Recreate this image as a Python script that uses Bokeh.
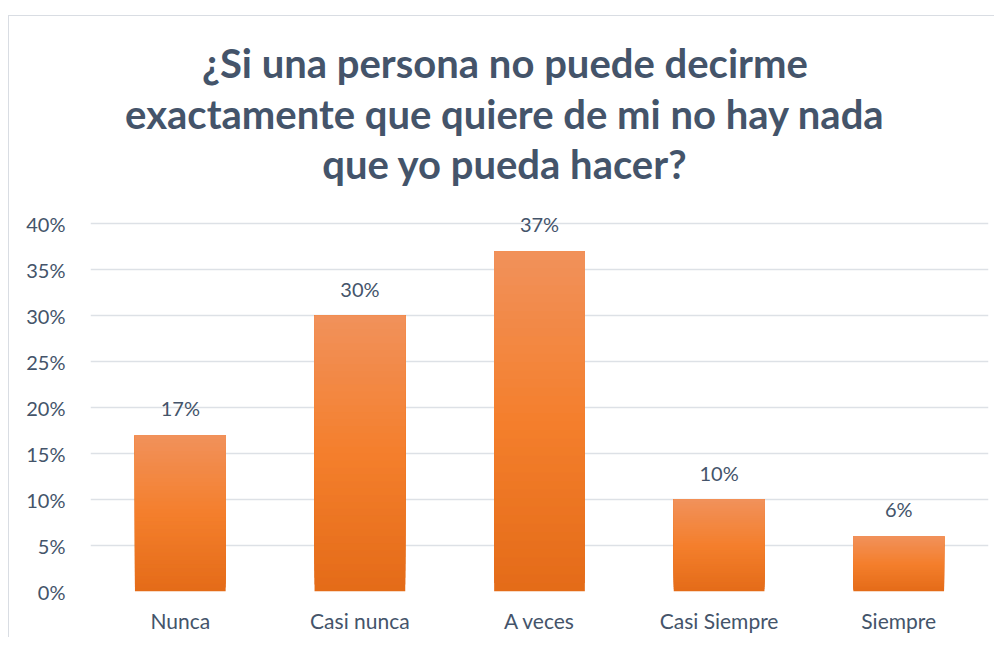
from bokeh.plotting import figure
from bokeh.models import FactorRange, Range1d, FixedTicker, ColumnDataSource, Spacer
from bokeh.layouts import column, row
from bokeh.core.properties import value
from bokeh.embed import file_html
from bokeh.resources import INLINE

categories = ["Nunca", "Casi nunca", "A veces", "Casi Siempre", "Siempre"]
values = [17, 30, 37, 10, 6]
bar_labels = ["17%", "30%", "37%", "10%", "6%"]
y_ticks = [0, 5, 10, 15, 20, 25, 30, 35, 40]
y_tick_labels = ["0%", "5%", "10%", "15%", "20%", "25%", "30%", "35%", "40%"]
title_lines = ["¿Si una persona no puede decirme",
               "exactamente que quiere de mi no hay nada",
               "que yo pueda hacer?"]

TEXT = "#44546A"
FONT = "Lato"
BORDER = "1px solid #D9DDE3"

# ---- title block ----
TW, TH = 986, 190
tf = figure(width=TW, height=TH, x_range=Range1d(0, TW), y_range=Range1d(TH, 0),
            output_backend="svg", toolbar_location=None, min_border=0, title=None,
            x_axis_location=None, y_axis_location=None)
tf.grid.visible = False
tf.outline_line_color = None
tf.text(x=[TW / 2 - 38] * 3, y=[46, 97.5, 147], text=title_lines, text_align="center",
        text_baseline="alphabetic", text_font=value(FONT), text_font_size="40px",
        text_font_style="bold", text_color=TEXT)
tf.styles = {"border-top": BORDER, "border-left": BORDER}

# ---- chart ----
p = figure(x_range=FactorRange(*categories, range_padding=0), y_range=Range1d(0, 42),
           width=986, height=432, output_backend="svg", toolbar_location=None, title=None,
           min_border_left=81, min_border_right=7, min_border_bottom=46, min_border_top=0)

def hex2rgb(h):
    h = h.lstrip("#")
    return tuple(int(h[k:k + 2], 16) for k in (0, 2, 4))

stops = [(0.0, hex2rgb("#E46B18")), (0.5, hex2rgb("#F47F2C")), (1.0, hex2rgb("#F1915B"))]

def color_at(f):
    for (f0, c0), (f1, c1) in zip(stops[:-1], stops[1:]):
        if f <= f1:
            t = (f - f0) / (f1 - f0)
            return "#%02x%02x%02x" % tuple(int(round(a + (b - a) * t)) for a, b in zip(c0, c1))
    return "#%02x%02x%02x" % stops[-1][1]

N = 40
xs, bots, tops, cols = [], [], [], []
for k in range(N):
    for c, v in zip(categories, values):
        xs.append(c)
        bots.append(v * k / N)
        tops.append(v)
        cols.append(color_at((k + 0.5) / N))
src = ColumnDataSource(dict(x=xs, bottom=bots, top=tops, color=cols))
p.vbar(x="x", bottom="bottom", top="top", width=0.505, source=src,
       fill_color="color", line_color=None)

p.text(x=categories, y=values, text=bar_labels, text_align="center", text_baseline="bottom",
       y_offset=-15, text_font=value(FONT), text_font_size="20px", text_color=TEXT)

p.xgrid.grid_line_color = None
p.ygrid.grid_line_color = "#DDE1E6"
p.ygrid.grid_line_width = 1.5
p.outline_line_color = None

p.yaxis.ticker = FixedTicker(ticks=y_ticks)
p.yaxis.major_label_overrides = {t: l for t, l in zip(y_ticks, y_tick_labels)}
for ax in (p.xaxis, p.yaxis):
    ax.axis_line_color = None
    ax.major_tick_line_color = None
    ax.minor_tick_line_color = None
    ax.major_label_text_font = FONT
    ax.major_label_text_color = TEXT
p.yaxis.major_label_text_font_size = "20px"
p.xaxis.major_label_text_font_size = "21px"
p.yaxis.major_label_standoff = 19
p.xaxis.major_label_standoff = 10
p.styles = {"border-left": BORDER}

layout = row(Spacer(width=8), column(Spacer(height=15), tf, p))
open("out.html", "w").write(file_html(layout, INLINE))
